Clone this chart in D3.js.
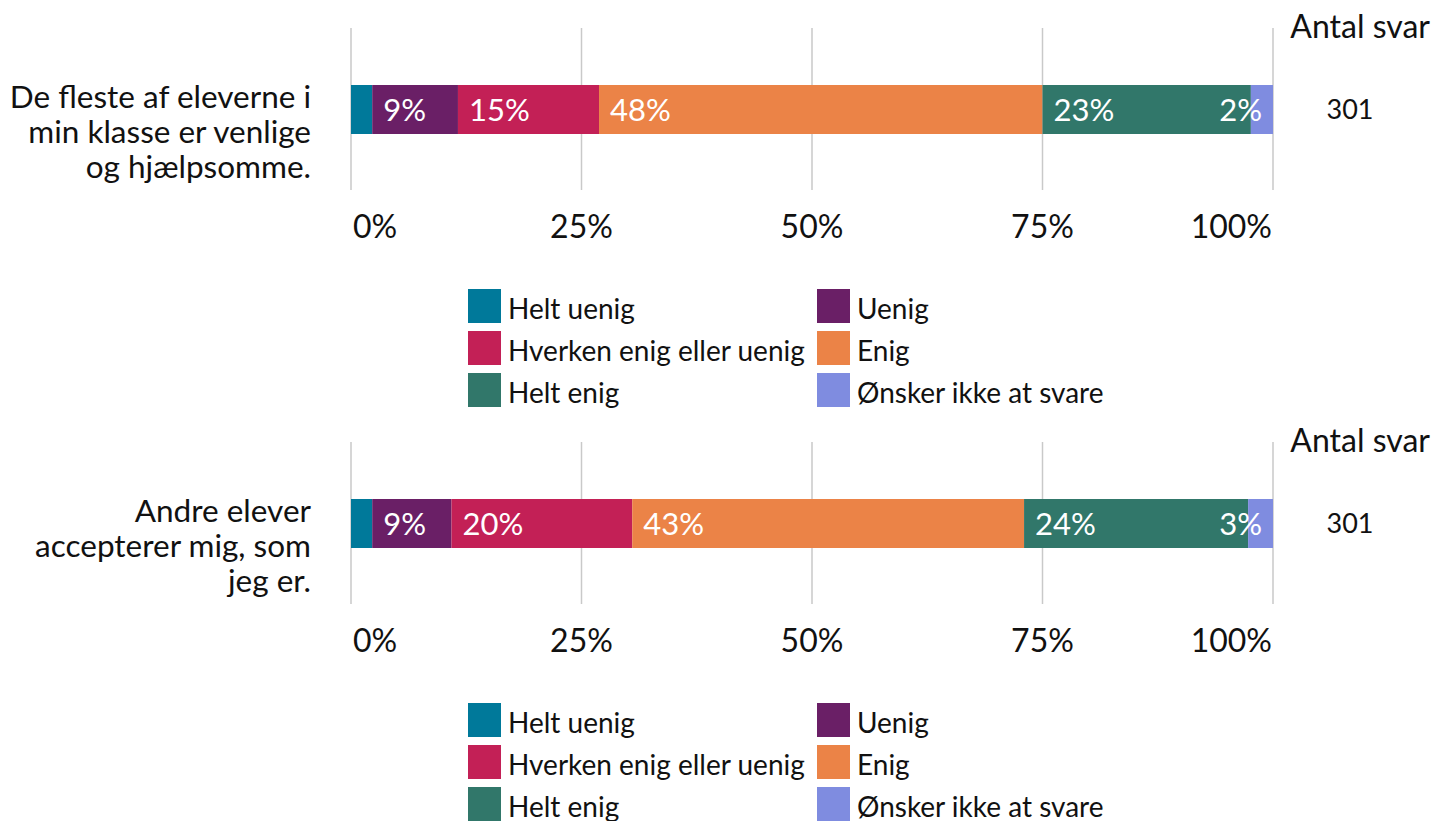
<!DOCTYPE html>
<html>
<head>
<meta charset="utf-8">
<script src="https://cdn.jsdelivr.net/npm/d3@7"></script>
<style>
  body { margin: 0; background: #fff; }
  svg { font-family: Lato, "Noto Sans", sans-serif; }
</style>
</head>
<body>
<svg id="chart"></svg>
<script>
// answer categories and colours
var categories = ["Helt uenig", "Uenig", "Hverken enig eller uenig", "Enig", "Helt enig", "Ønsker ikke at svare"];
var colors = ["#00799a", "#6a1f66", "#c32056", "#eb8347", "#31776a", "#7f8ce0"];

// questions (line broken as in the picture)
var questions = [
  ["De fleste af eleverne i", "min klasse er venlige", "og hjælpsomme."],
  ["Andre elever", "accepterer mig, som", "jeg er."]
];

// percentages per question
var q1Values = [2.3, 9.3, 15.3, 48.1, 22.6, 2.4];
var q2Values = [2.3, 8.6, 19.6, 42.5, 24.3, 2.7];
var values = [q1Values, q2Values];

var answerCounts = [301, 301];
var ticks = [0, 25, 50, 75, 100];

var svgWidth = 1432, svgHeight = 821;
var panelStep = 414;

var svg = d3.select("#chart")
  .attr("width", svgWidth)
  .attr("height", svgHeight);

var x = d3.scaleLinear()
  .domain([0, 100])
  .range([351, 1273]);

function drawPanel(i) {
  var g = svg.append("g")
    .attr("transform", "translate(0," + (i * panelStep) + ")");

  // grid lines
  g.selectAll("line.grid")
    .data(ticks)
    .enter()
    .append("line")
    .attr("class", "grid")
    .attr("x1", function(d) { return x(d); })
    .attr("x2", function(d) { return x(d); })
    .attr("y1", 28)
    .attr("y2", 190)
    .attr("stroke", "#c9c9c9")
    .attr("stroke-width", 1.5);

  // tick labels
  g.selectAll("text.tick")
    .data(ticks)
    .enter()
    .append("text")
    .attr("class", "tick")
    .attr("x", function(d, j) {
      if (j == 0) return x(d) + 2;
      if (j == ticks.length - 1) return x(d) - 1;
      return x(d);
    })
    .attr("y", 238)
    .attr("text-anchor", function(d, j) {
      if (j == 0) return "start";
      if (j == ticks.length - 1) return "end";
      return "middle";
    })
    .attr("font-size", 32)
    .attr("fill", "#111")
    .text(function(d) { return d + "%"; });

  // stacked segments
  var vals = values[i];
  var segs = [];
  var acc = 0;
  vals.forEach(function(v, j) {
    segs.push({ x0: acc, x1: acc + v, v: v, j: j });
    acc += v;
  });

  var barY = 85, barH = 49;

  g.selectAll("rect.seg")
    .data(segs)
    .enter()
    .append("rect")
    .attr("class", "seg")
    .attr("x", function(d) { return x(d.x0); })
    .attr("width", function(d) { return x(d.x1) - x(d.x0); })
    .attr("y", barY)
    .attr("height", barH)
    .attr("fill", function(d) { return colors[d.j]; });

  // value labels (the smallest first segment gets none)
  g.selectAll("text.val")
    .data(segs.filter(function(d) { return d.j > 0; }))
    .enter()
    .append("text")
    .attr("class", "val")
    .attr("x", function(d) {
      if (d.j == segs.length - 1) return x(100) - 11;
      return x(d.x0) + 11;
    })
    .attr("text-anchor", function(d) {
      return d.j == segs.length - 1 ? "end" : "start";
    })
    .attr("y", barY + barH / 2 + 11)
    .attr("font-size", 31)
    .attr("fill", "#fff")
    .text(function(d) { return Math.round(d.v) + "%"; });

  // question label
  g.append("text")
    .attr("text-anchor", "end")
    .attr("font-size", 31.5)
    .attr("fill", "#111")
    .selectAll("tspan")
    .data(questions[i])
    .enter()
    .append("tspan")
    .attr("x", 311)
    .attr("y", function(d, k) { return 108 + k * 35; })
    .text(function(d) { return d; });

  // answer count
  g.append("text")
    .attr("x", 1430)
    .attr("y", 38)
    .attr("text-anchor", "end")
    .attr("font-size", 32)
    .attr("fill", "#111")
    .text("Antal svar");

  g.append("text")
    .attr("x", 1350)
    .attr("y", 119)
    .attr("text-anchor", "middle")
    .attr("font-size", 27)
    .attr("fill", "#111")
    .text(answerCounts[i]);

  // legend
  var leg = g.selectAll("g.legend")
    .data(categories)
    .enter()
    .append("g")
    .attr("class", "legend")
    .attr("transform", function(d, k) {
      var col = k % 2, row = Math.floor(k / 2);
      return "translate(" + (col == 0 ? 468 : 817) + "," + (289 + row * 42) + ")";
    });

  leg.append("rect")
    .attr("width", 33)
    .attr("height", 34)
    .attr("fill", function(d, k) { return colors[k]; });

  leg.append("text")
    .attr("x", 40)
    .attr("y", 30)
    .attr("font-size", 28)
    .attr("fill", "#111")
    .text(function(d) { return d; });
}

drawPanel(0);
drawPanel(1);
</script>
</body>
</html>
